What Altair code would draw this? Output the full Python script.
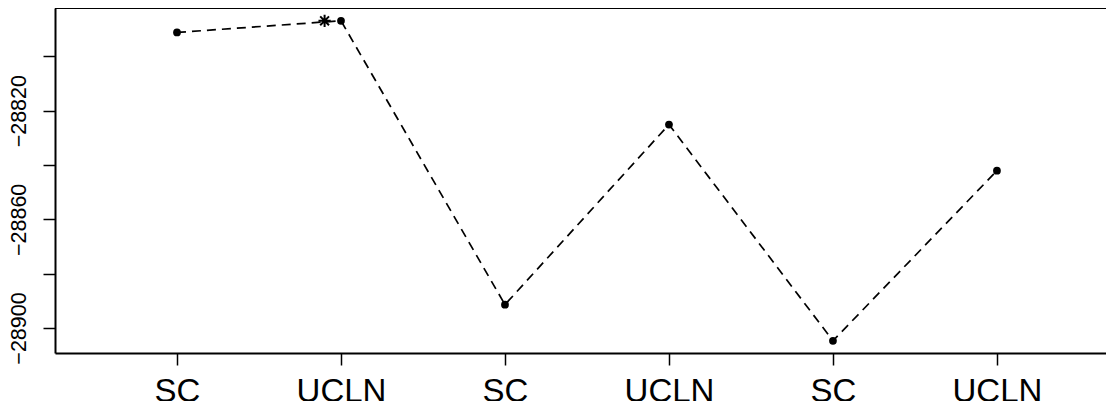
import altair as alt
import pandas as pd

# data
models = ["SC", "UCLN", "SC", "UCLN", "SC", "UCLN"]
positions = [1, 2, 3, 4, 5, 6]
values = [-28791.2, -28786.9, -28891.4, -28825.1, -28904.7, -28842.1]
best_x = [1.90]
best_y = [-28786.9]
y_ticks = [-28900, -28880, -28860, -28840, -28820, -28800]

df = pd.DataFrame({"pos": positions, "model": models, "value": values})
df_best = pd.DataFrame({"pos": best_x, "value": best_y})

label_map = "{" + ",".join(f"'{p}':'{m}'" for p, m in zip(positions, models)) + "}"

W, H = 1051, 345
FONT = "Liberation Sans"

xscale = alt.Scale(domain=[0.256, 6.665], nice=False, zero=False)
yscale = alt.Scale(domain=[-28909.2, -28782.2], nice=False, zero=False)

xenc = alt.X(
    "pos:Q",
    scale=xscale,
    axis=alt.Axis(
        values=positions,
        labelExpr=f"{label_map}[datum.value + '']",
        title=None,
        grid=False,
        domainColor="black",
        domainWidth=2,
        tickColor="black",
        tickWidth=1.5,
        tickSize=12,
        labelFontSize=33,
        labelFont=FONT,
        labelColor="black",
        labelPadding=10,
        labelBaseline="top",
    ),
)
yenc = alt.Y(
    "value:Q",
    scale=yscale,
    axis=alt.Axis(
        values=y_ticks,
        labelExpr="(datum.value + 28900) % 40 == 0 && datum.value <= -28820 ? replace(format(datum.value, 'd'), '-', '\u2212') : ''",
        title=None,
        grid=False,
        domainColor="black",
        domainWidth=2,
        tickColor="black",
        tickWidth=1.5,
        tickSize=12,
        labelFontSize=21.5,
        labelFont=FONT,
        labelColor="black",
        labelAngle=-90,
        labelAlign="center",
        labelBaseline="alphabetic",
        labelPadding=18,
    ),
)

base = alt.Chart(df)
line = base.mark_line(color="black", strokeWidth=1.7, strokeDash=[9, 6]).encode(x=xenc, y=yenc)
pts = base.mark_circle(color="black", opacity=1, size=60).encode(x="pos:Q", y="value:Q")
star = alt.Chart(df_best).mark_point(
    shape="M-1,0L1,0M0,-1L0,1M-0.72,-0.72L0.72,0.72M-0.72,0.72L0.72,-0.72",
    filled=False, color="black", strokeWidth=2, size=150, opacity=1,
).encode(x="pos:Q", y="value:Q")
top = alt.Chart(df).mark_rule(color="black", strokeWidth=2).encode(
    x=alt.value(0), x2=alt.value(W), y=alt.value(0)
)

chart = (
    alt.layer(top, line, pts, star)
    .properties(
        width=W,
        height=H,
        autosize=alt.AutoSizeParams(type="none"),
        padding={"left": 47, "top": 0, "right": 0, "bottom": 48},
        background="white",
    )
    .configure_view(stroke=None)
)

chart.save("out.html", embed_options={"renderer": "svg", "actions": False})
